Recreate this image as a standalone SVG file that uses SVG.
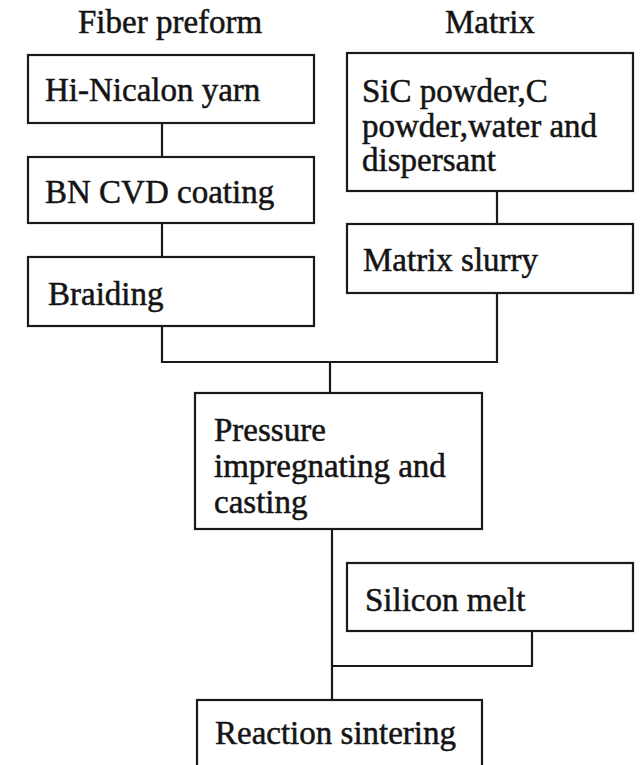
<svg xmlns="http://www.w3.org/2000/svg" width="641" height="765" viewBox="0 0 641 765">
<style>
.box{fill:#fff;stroke:#1a1a1a;stroke-width:2.2}
.t{font-family:"Liberation Serif","Times New Roman",serif;font-size:33px;fill:#141414;stroke:#141414;stroke-width:0.5}
.c{fill:none;stroke:#1a1a1a;stroke-width:2.2}
</style>
<rect width="641" height="765" fill="#fff"/>
<g id="titles">
<text class="t" x="78" y="33">Fiber preform</text>
<text class="t" x="445" y="33">Matrix</text>
</g>
<g id="connectors">
<line class="c" x1="162" y1="123" x2="162" y2="157"/>
<line class="c" x1="162" y1="223" x2="162" y2="257"/>
<polyline class="c" points="162,326 162,362 497,362 497,293"/>
<line class="c" x1="330" y1="362" x2="330" y2="393"/>
<line class="c" x1="497" y1="191" x2="497" y2="224"/>
<line class="c" x1="332" y1="529" x2="332" y2="700"/>
<polyline class="c" points="532,631 532,666 332,666"/>
</g>
<g id="hinicalon">
<rect class="box" x="28" y="55" width="286" height="68"/>
<text class="t" x="45" y="101">Hi-Nicalon yarn</text>
</g>
<g id="bncvd">
<rect class="box" x="28" y="157" width="286" height="66"/>
<text class="t" x="45" y="203">BN CVD coating</text>
</g>
<g id="braiding">
<rect class="box" x="28" y="257" width="286" height="69"/>
<text class="t" x="48" y="305">Braiding</text>
</g>
<g id="sic">
<rect class="box" x="347" y="53" width="286" height="138"/>
<text class="t" x="362" y="102">SiC powder,C</text>
<text class="t" x="362" y="137">powder,water and</text>
<text class="t" x="362" y="171">dispersant</text>
</g>
<g id="slurry">
<rect class="box" x="347" y="224" width="286" height="69"/>
<text class="t" x="363" y="271">Matrix slurry</text>
</g>
<g id="pressure">
<rect class="box" x="195" y="393" width="287" height="136"/>
<text class="t" x="214" y="441">Pressure</text>
<text class="t" x="214" y="477">impregnating and</text>
<text class="t" x="214" y="513">casting</text>
</g>
<g id="silicon">
<rect class="box" x="347" y="563" width="286" height="68"/>
<text class="t" x="365" y="611">Silicon melt</text>
</g>
<g id="reaction">
<rect class="box" x="197" y="700" width="285" height="80"/>
<text class="t" x="215" y="744">Reaction sintering</text>
</g>
</svg>
